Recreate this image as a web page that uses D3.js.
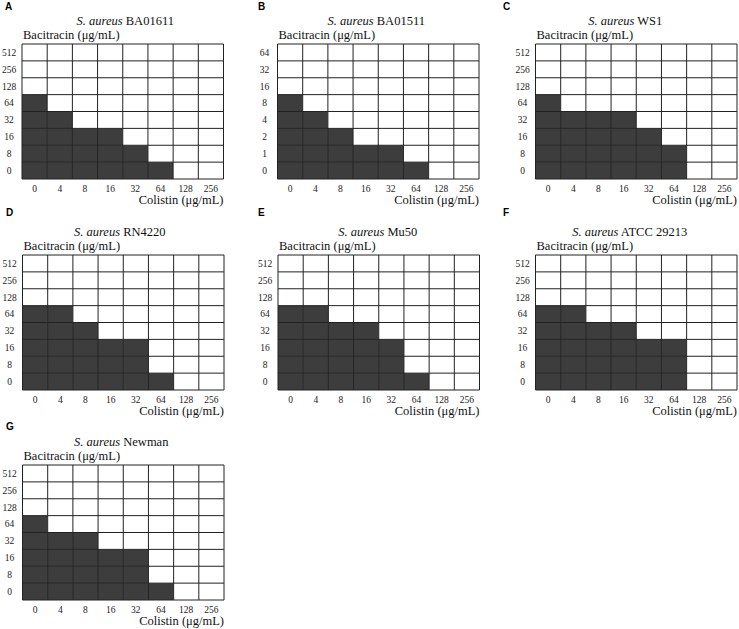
<!DOCTYPE html>
<html><head><meta charset="utf-8">
<script src="https://cdn.jsdelivr.net/npm/d3@7/dist/d3.min.js"></script>
<style>body{margin:0;background:#fff}svg{display:block}</style>
</head><body>
<svg id="chart" width="739" height="629"></svg>
<script>
// ---------- data ----------
const colistin = ["0", "4", "8", "16", "32", "64", "128", "256"];
const bacitracinStd = ["0", "8", "16", "32", "64", "128", "256", "512"];
const bacitracinB = ["0", "1", "2", "4", "8", "16", "32", "64"];
const panelLetters = ["A", "B", "C", "D", "E", "F", "G"];
const strains = ["BA01611", "BA01511", "WS1", "RN4220", "Mu50", "ATCC 29213", "Newman"];
// highest bacitracin concentration with growth at each colistin concentration (null = no growth)
const growthA = ["64", "32", "16", "16", "8", "0", null, null];
const growthB = ["8", "4", "2", "1", "1", "0", null, null];
const growthC = ["64", "32", "32", "32", "16", "8", null, null];
const growthD = ["64", "64", "32", "16", "16", "0", null, null];
const growthE = ["64", "64", "32", "32", "16", "0", null, null];
const growthF = ["64", "64", "32", "32", "16", "16", null, null];
const growthG = ["64", "32", "32", "16", "16", "0", null, null];

const growth = [growthA, growthB, growthC, growthD, growthE, growthF, growthG];
const bacAxes = [bacitracinStd, bacitracinB, bacitracinStd, bacitracinStd, bacitracinStd, bacitracinStd, bacitracinStd];

// ---------- layout ----------
const layout = [
  {x: 22,    y: 44,  lx: 5,   ly: 10,  tdx: 2.5},
  {x: 277.5, y: 44,  lx: 258, ly: 10,  tdx: -2},
  {x: 535.5, y: 44,  lx: 503, ly: 10,  tdx: -11},
  {x: 22.5,  y: 255, lx: 6,   ly: 216, tdx: -3.5},
  {x: 278,   y: 255, lx: 258, ly: 216, tdx: -1},
  {x: 535.5, y: 255, lx: 503, ly: 216, tdx: -6.5},
  {x: 22.5,  y: 465, lx: 6,   ly: 430, tdx: -2}
];
const W = 201.5, H = 135;
const DARK = "#3d3d3d", LINE = "#222";
const serif = "'Liberation Serif','Times New Roman',serif";

const svg = d3.select("#chart");

panelLetters.forEach((letter, p) => {
  const L = layout[p];
  const bac = bacAxes[p];
  const x = d3.scaleBand().domain(colistin).range([L.x, L.x + W]);
  const y = d3.scaleBand().domain(bac.slice().reverse()).range([L.y, L.y + H]);
  const g = svg.append("g");

  // cells
  const cells = [];
  colistin.forEach((c, i) => {
    const maxIdx = growth[p][i] === null ? -1 : bac.indexOf(growth[p][i]);
    bac.forEach((b, j) => cells.push({c, b, on: j <= maxIdx}));
  });
  g.selectAll("rect.cell").data(cells).join("rect")
    .attr("class", "cell")
    .attr("x", d => x(d.c)).attr("y", d => y(d.b))
    .attr("width", x.bandwidth()).attr("height", y.bandwidth())
    .attr("fill", d => d.on ? DARK : "#fff");

  // grid lines
  const vx = colistin.map(c => x(c)).concat([L.x + W]);
  const hy = bac.map(b => y(b)).concat([L.y + H]);
  g.selectAll("line.v").data(vx).join("line")
    .attr("x1", d => d).attr("x2", d => d)
    .attr("y1", L.y).attr("y2", L.y + H)
    .attr("stroke", LINE).attr("stroke-width", 1);
  g.selectAll("line.h").data(hy).join("line")
    .attr("y1", d => d).attr("y2", d => d)
    .attr("x1", L.x).attr("x2", L.x + W)
    .attr("stroke", LINE).attr("stroke-width", 1);

  // y tick labels
  g.selectAll("text.yt").data(bac).join("text")
    .attr("x", L.x - 13).attr("y", d => y(d) + y.bandwidth() / 2)
    .attr("dy", "0.35em").attr("text-anchor", "middle")
    .attr("font-family", serif).attr("font-size", 9.5).attr("fill", "#222")
    .text(d => d);

  // x tick labels
  g.selectAll("text.xt").data(colistin).join("text")
    .attr("x", d => x(d) + x.bandwidth() / 2).attr("y", L.y + H + 12.5)
    .attr("text-anchor", "middle")
    .attr("font-family", serif).attr("font-size", 9.5).attr("fill", "#222")
    .text(d => d);

  // axis titles
  g.append("text").attr("x", L.x + 1).attr("y", L.y - 5.5)
    .attr("font-family", serif).attr("font-size", 12.5).attr("fill", "#111")
    .text("Bacitracin (μg/mL)");
  g.append("text").attr("x", L.x + W).attr("y", L.y + H + 25)
    .attr("text-anchor", "end")
    .attr("font-family", serif).attr("font-size", 12.5).attr("fill", "#111")
    .text("Colistin (μg/mL)");

  // panel title
  const t = g.append("text").attr("x", L.x + W / 2 + L.tdx).attr("y", L.y - 19.5)
    .attr("text-anchor", "middle")
    .attr("font-family", serif).attr("font-size", 12.5).attr("fill", "#111");
  t.append("tspan").attr("font-style", "italic").text("S. aureus");
  t.append("tspan").text(" " + strains[p]);

  // panel letter
  svg.append("text").attr("x", L.lx).attr("y", L.ly)
    .attr("font-family", "'Liberation Sans',Arial,sans-serif")
    .attr("font-weight", "bold").attr("font-size", 10).attr("fill", "#000")
    .text(letter);
});
</script>
</body></html>
